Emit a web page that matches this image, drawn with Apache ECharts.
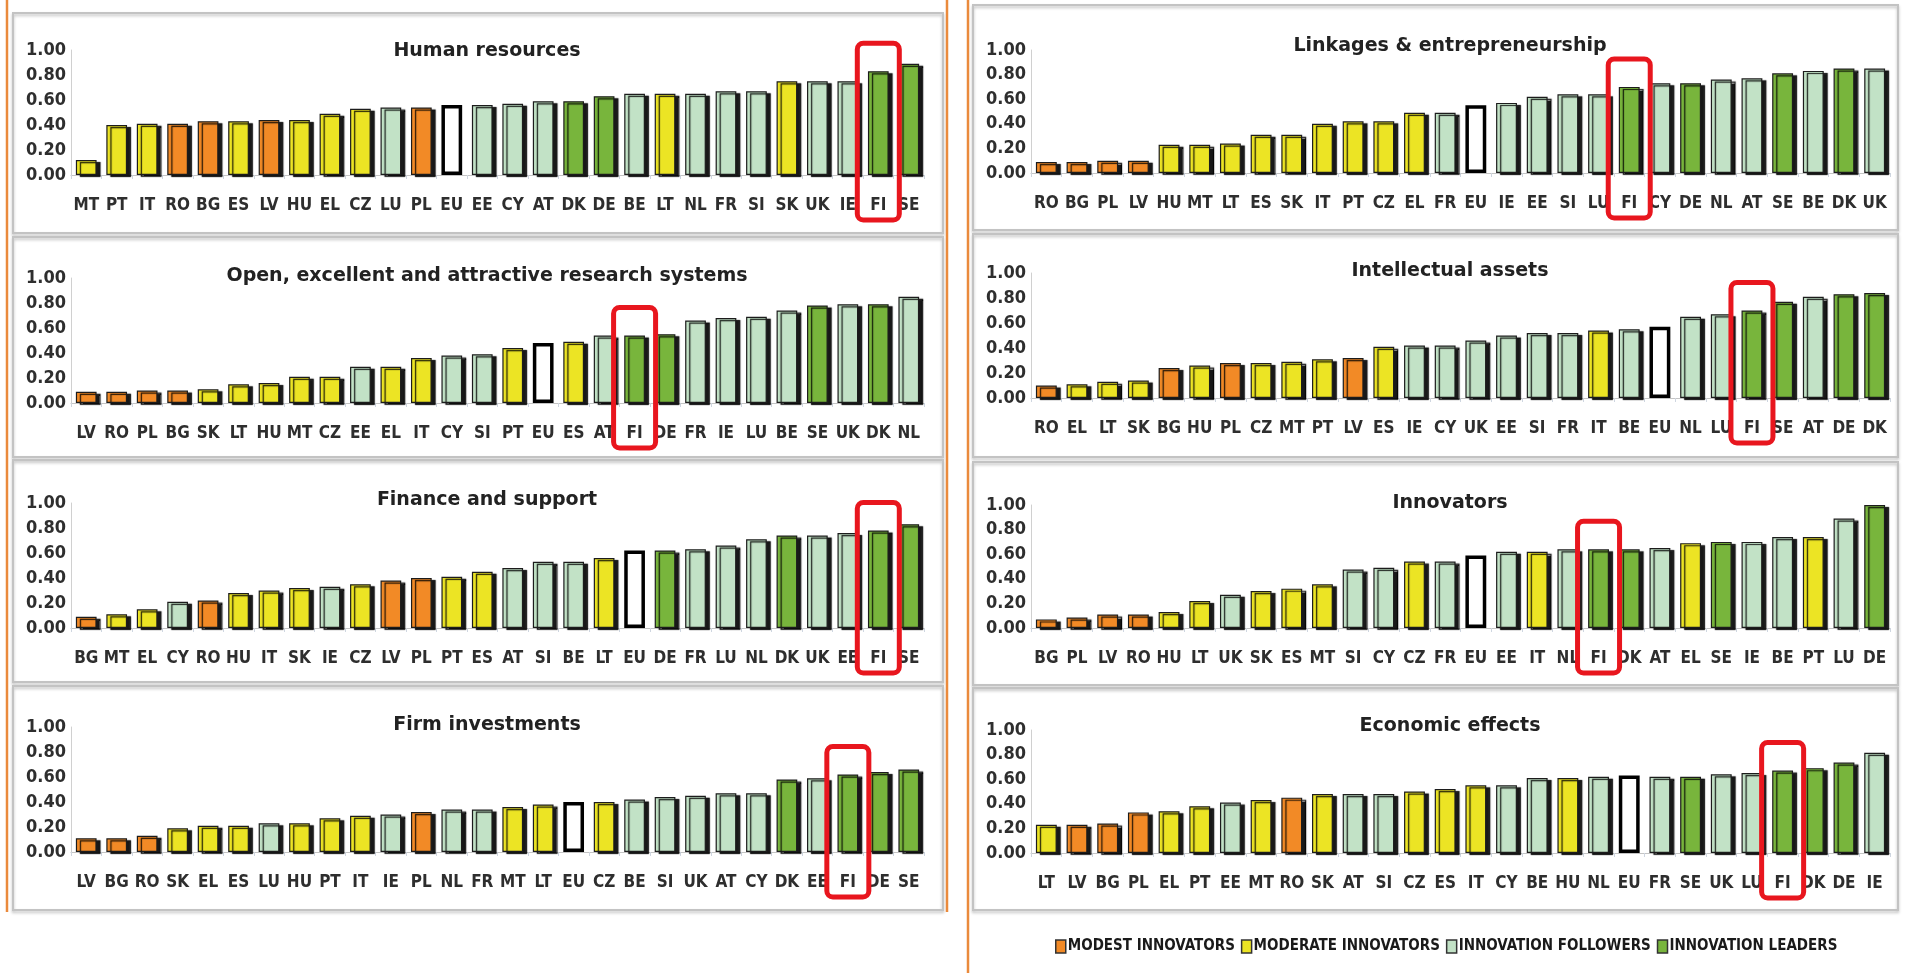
<!DOCTYPE html>
<html>
<head>
<meta charset="utf-8">
<title>Innovation dimensions by country</title>
<script src="https://cdn.jsdelivr.net/npm/echarts@6/dist/echarts.min.js"></script>
<style>
  html, body { margin: 0; padding: 0; background: #ffffff; }
  #chart { width: 1905px; height: 973px; }
</style>
</head>
<body>
<div id="chart"></div>
<script>
// ---- country groups ----
const modest    = ['BG', 'LV', 'PL', 'RO'];
const moderate  = ['CZ', 'EL', 'ES', 'HU', 'IT', 'LT', 'MT', 'PT', 'SK'];
const followers = ['AT', 'BE', 'CY', 'EE', 'FR', 'IE', 'LU', 'NL', 'SI', 'UK'];
const leaders   = ['DE', 'DK', 'FI', 'SE'];
const groupNames = ['MODEST INNOVATORS', 'MODERATE INNOVATORS', 'INNOVATION FOLLOWERS', 'INNOVATION LEADERS'];
const highlighted = 'FI';
const yTickValues = [0, 0.2, 0.4, 0.6, 0.8, 1.0];

// ---- panel titles ----
const panelTitles = [
  'Human resources',
  'Open, excellent and attractive research systems',
  'Finance and support',
  'Firm investments',
  'Linkages & entrepreneurship',
  'Intellectual assets',
  'Innovators',
  'Economic effects'
];

// ---- Human resources ----
const hrCountries = ['MT','PT','IT','RO','BG','ES','LV','HU','EL','CZ','LU','PL','EU','EE','CY','AT','DK','DE','BE','LT','NL','FR','SI','SK','UK','IE','FI','SE'];
const hrValues    = [0.12,0.40,0.41,0.41,0.43,0.43,0.44,0.44,0.49,0.53,0.54,0.54,0.56,0.56,0.57,0.59,0.59,0.63,0.65,0.65,0.65,0.67,0.67,0.75,0.75,0.75,0.83,0.89];

// ---- Open, excellent and attractive research systems ----
const researchCountries = ['LV','RO','PL','BG','SK','LT','HU','MT','CZ','EE','EL','IT','CY','SI','PT','EU','ES','AT','FI','DE','FR','IE','LU','BE','SE','UK','DK','NL'];
const researchValues    = [0.09,0.09,0.10,0.10,0.11,0.15,0.16,0.21,0.21,0.29,0.29,0.36,0.38,0.39,0.44,0.48,0.49,0.54,0.54,0.55,0.66,0.68,0.69,0.74,0.78,0.79,0.79,0.85];

// ---- Finance and support ----
const financeCountries = ['BG','MT','EL','CY','RO','HU','IT','SK','IE','CZ','LV','PL','PT','ES','AT','SI','BE','LT','EU','DE','FR','LU','NL','DK','UK','EE','FI','SE'];
const financeValues    = [0.09,0.11,0.15,0.21,0.22,0.28,0.30,0.32,0.33,0.35,0.38,0.40,0.41,0.45,0.48,0.53,0.53,0.56,0.62,0.62,0.63,0.66,0.71,0.74,0.74,0.76,0.78,0.83];

// ---- Firm investments ----
const firmCountries = ['LV','BG','RO','SK','EL','ES','LU','HU','PT','IT','IE','PL','NL','FR','MT','LT','EU','CZ','BE','SI','UK','AT','CY','DK','EE','FI','DE','SE'];
const firmValues    = [0.11,0.11,0.13,0.19,0.21,0.21,0.23,0.23,0.27,0.29,0.30,0.32,0.34,0.34,0.36,0.38,0.40,0.40,0.42,0.44,0.45,0.47,0.47,0.58,0.59,0.62,0.64,0.66];

// ---- Linkages & entrepreneurship ----
const linkCountries = ['RO','BG','PL','LV','HU','MT','LT','ES','SK','IT','PT','CZ','EL','FR','EU','IE','EE','SI','LU','FI','CY','DE','NL','AT','SE','BE','DK','UK'];
const linkValues    = [0.09,0.09,0.10,0.10,0.23,0.23,0.24,0.31,0.31,0.40,0.42,0.42,0.49,0.49,0.55,0.57,0.62,0.64,0.64,0.70,0.73,0.73,0.76,0.77,0.81,0.83,0.85,0.85];

// ---- Intellectual assets ----
const intelCountries = ['RO','EL','LT','SK','BG','HU','PL','CZ','MT','PT','LV','ES','IE','CY','UK','EE','SI','FR','IT','BE','EU','NL','LU','FI','SE','AT','DE','DK'];
const intelValues    = [0.10,0.11,0.13,0.14,0.24,0.26,0.28,0.28,0.29,0.31,0.32,0.41,0.42,0.42,0.46,0.50,0.52,0.52,0.54,0.55,0.57,0.65,0.67,0.70,0.77,0.81,0.83,0.84];

// ---- Innovators ----
const innovCountries = ['BG','PL','LV','RO','HU','LT','UK','SK','ES','MT','SI','CY','CZ','FR','EU','EE','IT','NL','FI','DK','AT','EL','SE','IE','BE','PT','LU','DE'];
const innovValues    = [0.07,0.085,0.11,0.11,0.13,0.22,0.27,0.30,0.32,0.355,0.475,0.49,0.54,0.54,0.59,0.62,0.62,0.64,0.64,0.64,0.65,0.69,0.70,0.70,0.74,0.74,0.89,1.00];

// ---- Economic effects ----
const econCountries = ['LT','LV','BG','PL','EL','PT','EE','MT','RO','SK','AT','SI','CZ','ES','IT','CY','BE','HU','NL','EU','FR','SE','UK','LU','FI','DK','DE','IE'];
const econValues    = [0.23,0.23,0.24,0.33,0.34,0.38,0.41,0.43,0.45,0.48,0.48,0.48,0.50,0.52,0.55,0.55,0.61,0.61,0.62,0.63,0.62,0.62,0.64,0.65,0.67,0.69,0.735,0.815];

const panelCountries = [hrCountries, researchCountries, financeCountries, firmCountries, linkCountries, intelCountries, innovCountries, econCountries];
const panelValues    = [hrValues, researchValues, financeValues, firmValues, linkValues, intelValues, innovValues, econValues];

// ---- page layout (pixels) ----
const columns = [
  { plotLeft: 71,   plotWidth: 853, titleX: 482,  frameLeft: 13,  frameRight: 943 },
  { plotLeft: 1031, plotWidth: 859, titleX: 1445, frameLeft: 973, frameRight: 1898 }
];
const panelLayout = [
  { col: 0, plotTop: 50,  plotHeight: 125, titleY: 48,  frameTop: 13,  frameBottom: 233 },
  { col: 0, plotTop: 278, plotHeight: 125, titleY: 273, frameTop: 237, frameBottom: 457 },
  { col: 0, plotTop: 503, plotHeight: 125, titleY: 497, frameTop: 460, frameBottom: 682 },
  { col: 0, plotTop: 727, plotHeight: 125, titleY: 722, frameTop: 686, frameBottom: 910 },
  { col: 1, plotTop: 50,  plotHeight: 123, titleY: 43,  frameTop: 5,   frameBottom: 230 },
  { col: 1, plotTop: 273, plotHeight: 125, titleY: 268, frameTop: 234, frameBottom: 457 },
  { col: 1, plotTop: 505, plotHeight: 123, titleY: 500, frameTop: 462, frameBottom: 685 },
  { col: 1, plotTop: 730, plotHeight: 123, titleY: 723, frameTop: 688, frameBottom: 910 }
];

// ---- fonts: prefer a condensed face for the axis and legend text ----
function fontInstalled(name) {
  const ctx = document.createElement('canvas').getContext('2d');
  const sample = 'MODEST INNOVATORS 0.80 wmWM';
  ctx.font = '20px monospace';
  const base = ctx.measureText(sample).width;
  ctx.font = "20px '" + name + "', monospace";
  return ctx.measureText(sample).width !== base;
}
let axisText;
if (fontInstalled('Liberation Sans Narrow')) {
  axisText = { family: "'Liberation Sans Narrow', sans-serif", xSize: 20, ySize: 20, legendSize: 18 };
} else if (fontInstalled('DejaVu Sans Condensed')) {
  axisText = { family: "'DejaVu Sans Condensed', sans-serif", xSize: 17, ySize: 18, legendSize: 15 };
} else {
  axisText = { family: "'Liberation Sans', sans-serif", xSize: 16, ySize: 18, legendSize: 14 };
}

// ---- styles ----
const groupMembers = [modest, moderate, followers, leaders];
const groupColors  = ['#F28A26', '#ECE424', '#C2E2C6', '#78B53C'];
const barShadow = { shadowColor: 'rgba(0,0,0,0.9)', shadowOffsetX: 4, shadowOffsetY: 2, shadowBlur: 1 };

const chart = echarts.init(document.getElementById('chart'), null, { renderer: 'canvas' });

const grids = [], xAxes = [], yAxes = [], series = [], titles = [];

panelLayout.forEach((p, i) => {
  const col = columns[p.col];
  const cats = panelCountries[i];
  const vals = panelValues[i];

  grids.push({ left: col.plotLeft, top: p.plotTop, width: col.plotWidth, height: p.plotHeight, containLabel: false });

  xAxes.push({
    type: 'category', gridIndex: i, data: cats,
    axisLine: { show: true, lineStyle: { color: '#c4c4c4', width: 1 } },
    axisTick: { show: true, length: 4, lineStyle: { color: '#cfd6e0' } },
    axisLabel: { interval: 0, margin: 22, fontFamily: axisText.family, fontSize: axisText.xSize,
                 fontWeight: 'bold', color: '#2e2e2e' }
  });

  yAxes.push({
    type: 'value', gridIndex: i, min: yTickValues[0], max: yTickValues[yTickValues.length - 1], interval: 0.2,
    splitLine: { show: false },
    axisLine: { show: true, lineStyle: { color: '#d0d0d0' } },
    axisTick: { show: false },
    axisLabel: { margin: 5, fontFamily: axisText.family, fontSize: axisText.ySize, fontWeight: 'bold',
                 color: '#2e2e2e', formatter: v => v.toFixed(2) }
  });

  titles.push({
    text: panelTitles[i], left: col.titleX, top: p.titleY - 11, textAlign: 'center',
    textStyle: { fontFamily: "'DejaVu Sans', sans-serif", fontSize: 19, fontWeight: 'bold', color: '#222' }
  });

  groupMembers.forEach((members, g) => {
    series.push({
      type: 'bar', name: groupNames[g], xAxisIndex: i, yAxisIndex: i, stack: 'panel' + i,
      barWidth: '68%',
      data: cats.map((c, k) => members.includes(c) ? vals[k] : '-'),
      itemStyle: Object.assign({ color: groupColors[g], borderColor: '#1c1c1c', borderWidth: 1.2 }, barShadow),
      emphasis: { disabled: true }
    });
  });

  series.push({
    type: 'bar', name: 'EU', xAxisIndex: i, yAxisIndex: i, stack: 'panel' + i,
    barWidth: '68%',
    data: cats.map((c, k) => c === 'EU' ? vals[k] : '-'),
    itemStyle: { color: '#ffffff', borderColor: '#000000', borderWidth: 3.5 },
    emphasis: { disabled: true }
  });
});

chart.setOption({
  animation: false,
  backgroundColor: '#ffffff',
  title: titles,
  grid: grids,
  xAxis: xAxes,
  yAxis: yAxes,
  series: series,
  legend: {
    data: groupNames, left: 1050, top: 934, width: 850,
    icon: 'rect', itemWidth: 10, itemHeight: 13, itemGap: 6,
    itemStyle: { borderColor: '#333', borderWidth: 1.5 },
    textStyle: { fontFamily: axisText.family, fontSize: axisText.legendSize, fontWeight: 'bold',
                 color: '#1a1a1a', padding: [0, 0, 0, -3] },
    selectedMode: false
  }
});

// ---- frames, divider lines and highlight boxes ----
const graphics = [];

panelLayout.forEach(p => {
  const col = columns[p.col];
  graphics.push({
    type: 'rect', z: 1, silent: true,
    shape: { x: col.frameLeft, y: p.frameTop, width: col.frameRight - col.frameLeft, height: p.frameBottom - p.frameTop },
    style: { fill: 'none', stroke: '#c3c3c3', lineWidth: 2, shadowColor: 'rgba(0,0,0,0.25)', shadowBlur: 3, shadowOffsetY: 2 }
  });
});

[[7, 0, 912], [947, 0, 912], [968, 0, 973]].forEach(([x, y1, y2]) => {
  graphics.push({
    type: 'line', z: 2, silent: true,
    shape: { x1: x, y1: y1, x2: x, y2: y2 },
    style: { stroke: '#EA8A3C', lineWidth: 2.5 }
  });
});

panelLayout.forEach((p, i) => {
  const cats = panelCountries[i];
  const k = cats.indexOf(highlighted);
  const top = chart.convertToPixel({ gridIndex: i }, [highlighted, panelValues[i][k]]);
  const base = chart.convertToPixel({ gridIndex: i }, [highlighted, 0]);
  const boxWidth = 42;
  const y1 = top[1] - 28;
  const y2 = base[1] + 45;
  graphics.push({
    type: 'rect', z: 100, silent: true,
    shape: { x: top[0] - boxWidth / 2, y: y1, width: boxWidth, height: y2 - y1, r: 6 },
    style: { fill: 'none', stroke: '#E8161E', lineWidth: 5 }
  });
});

chart.setOption({ graphic: graphics });
</script>
</body>
</html>
